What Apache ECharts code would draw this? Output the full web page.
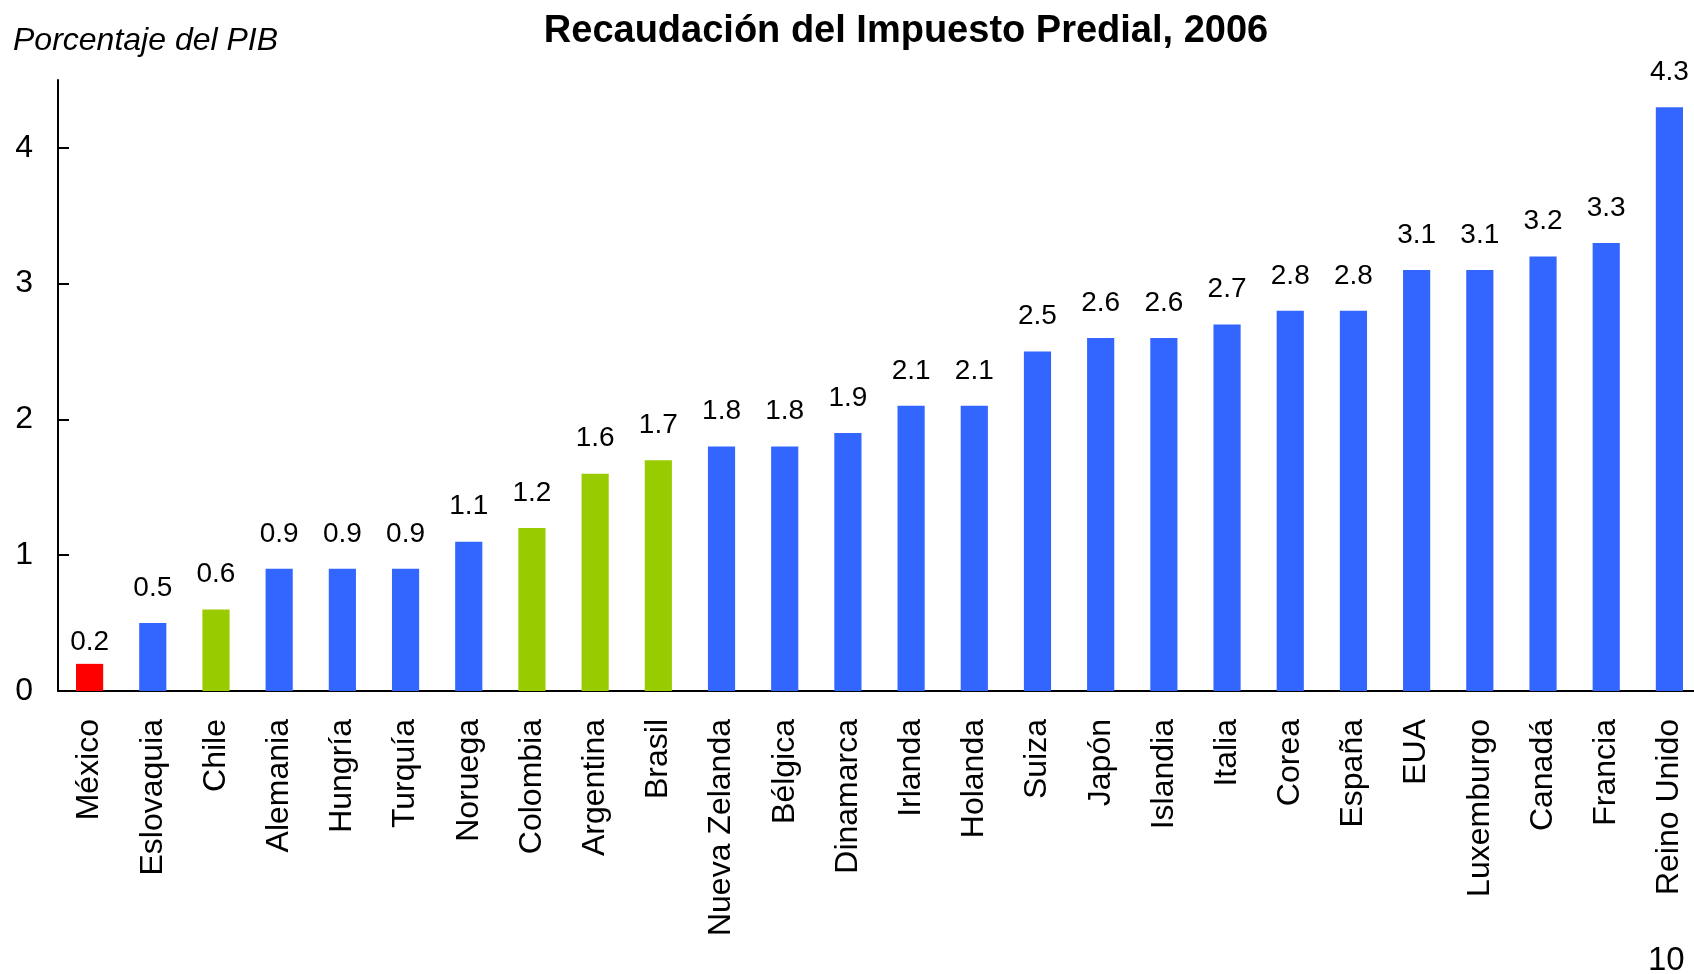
<!DOCTYPE html>
<html>
<head>
<meta charset="utf-8">
<script src="https://cdn.jsdelivr.net/npm/echarts@6/dist/echarts.min.js"></script>
<style>
  html, body { margin: 0; padding: 0; background: #fff; }
  #chart { width: 1694px; height: 974px; }
</style>
</head>
<body>
<div id="chart"></div>
<script>
// Recaudación del impuesto predial como % del PIB, 2006
var countries = ['México', 'Eslovaquia', 'Chile', 'Alemania', 'Hungría', 'Turquía', 'Noruega', 'Colombia',
  'Argentina', 'Brasil', 'Nueva Zelanda', 'Bélgica', 'Dinamarca', 'Irlanda', 'Holanda', 'Suiza', 'Japón',
  'Islandia', 'Italia', 'Corea', 'España', 'EUA', 'Luxemburgo', 'Canadá', 'Francia', 'Reino Unido'];
var values = [0.2, 0.5, 0.6, 0.9, 0.9, 0.9, 1.1, 1.2, 1.6, 1.7, 1.8, 1.8, 1.9, 2.1, 2.1, 2.5, 2.6,
  2.6, 2.7, 2.8, 2.8, 3.1, 3.1, 3.2, 3.3, 4.3];
var yTicks = [0, 1, 2, 3, 4];

// grupos resaltados
var mexico = ['México'];
var latam = ['Chile', 'Colombia', 'Argentina', 'Brasil'];

var blue = '#3366FF', red = '#FF0000', green = '#99CC00';
var font = '"Liberation Sans", Arial, sans-serif';

var chart = echarts.init(document.getElementById('chart'), null, { renderer: 'canvas' });
chart.setOption({
  animation: false,
  title: {
    text: 'Recaudación del Impuesto Predial, 2006',
    left: 901,
    textAlign: 'center',
    top: 8,
    textStyle: { fontFamily: font, fontSize: 38, fontWeight: 'bold', color: '#000' }
  },
  grid: { left: 58, top: 80, width: 1643, bottom: 283, containLabel: false, outerBoundsMode: 'none' },
  xAxis: {
    type: 'category',
    data: countries,
    axisLine: { lineStyle: { color: '#000', width: 2 } },
    axisTick: { show: false },
    axisLabel: { rotate: 90, margin: 28, interval: 0, color: '#000', fontFamily: font, fontSize: 32 }
  },
  yAxis: {
    type: 'value',
    min: 0,
    max: 4.5,
    axisLine: { show: true, lineStyle: { color: '#000', width: 2 } },
    axisTick: { show: true, inside: true, length: 11, customValues: yTicks, lineStyle: { color: '#000', width: 2 } },
    axisLabel: { customValues: yTicks, margin: 25, color: '#000', fontFamily: font, fontSize: 32 },
    splitLine: { show: false }
  },
  series: [{
    type: 'bar',
    barWidth: '43%',
    data: values.map(function(v, i) {
      var isMx = mexico.indexOf(countries[i]) >= 0;
      var c = isMx ? red : (latam.indexOf(countries[i]) >= 0 ? green : blue);
      return { value: v, itemStyle: { color: c }, label: { distance: isMx ? 8 : 21 } };
    }),
    label: {
      show: true,
      position: 'top',
      color: '#000',
      fontFamily: font,
      fontSize: 28,
      formatter: function(p) { return p.value.toFixed(1); }
    }
  }],
  graphic: [
    {
      type: 'text', left: 13, top: 25,
      style: { text: 'Porcentaje del PIB', fill: '#000', font: 'italic 32px ' + font }
    },
    {
      type: 'text', left: 1648, top: 944,
      style: { text: '10', fill: '#000', font: '33px ' + font }
    }
  ]
});
</script>
</body>
</html>
